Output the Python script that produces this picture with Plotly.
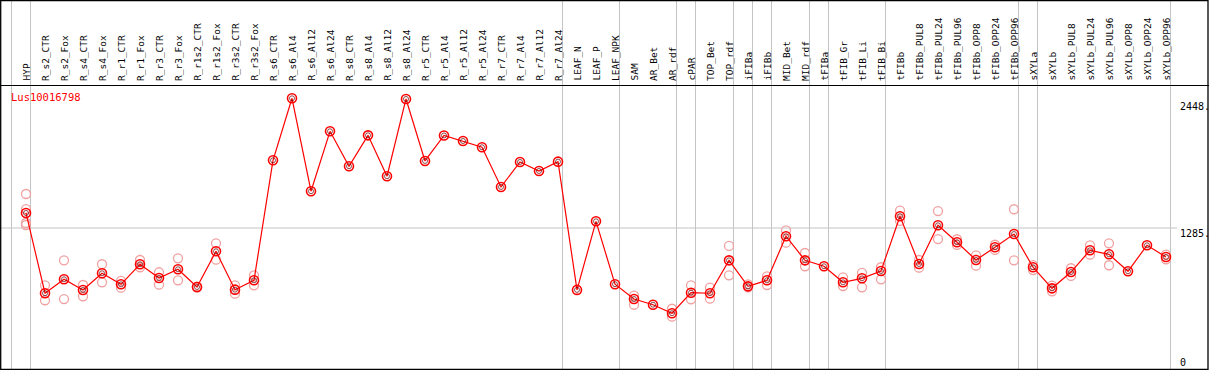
import plotly.graph_objects as go

categories = ["HYP", "R_s2_CTR", "R_s2_Fox", "R_s4_CTR", "R_s4_Fox", "R_r1_CTR", "R_r1_Fox",
              "R_r3_CTR", "R_r3_Fox", "R_r1s2_CTR", "R_r1s2_Fox", "R_r3s2_CTR", "R_r3s2_Fox",
              "R_s6_CTR", "R_s6_Al4", "R_s6_Al12", "R_s6_Al24", "R_s8_CTR", "R_s8_Al4",
              "R_s8_Al12", "R_s8_Al24", "R_r5_CTR", "R_r5_Al4", "R_r5_Al12", "R_r5_Al24",
              "R_r7_CTR", "R_r7_Al4", "R_r7_Al12", "R_r7_Al24", "LEAF_N", "LEAF_P", "LEAF_NPK",
              "SAM", "AR_Bet", "AR_rdf", "cPAR", "TOP_Bet", "TOP_rdf", "iFIBa", "iFIBb",
              "MID_Bet", "MID_rdf", "tFIBa", "tFIB_Gr", "tFIB_Li", "tFIB_Bi", "tFIBb",
              "tFIBb_PUL8", "tFIBb_PUL24", "tFIBb_PUL96", "tFIBb_OPP8", "tFIBb_OPP24",
              "tFIBb_OPP96", "sXYLa", "sXYLb", "sXYLb_PUL8", "sXYLb_PUL24", "sXYLb_PUL96",
              "sXYLb_OPP8", "sXYLb_OPP24", "sXYLb_OPP96"]

means = [1420, 700, 825, 729, 879, 780, 960,
         837, 915, 756, 1076, 732, 816,
         1892, 2448, 1615, 2152, 1839, 2116,
         1749, 2442, 1886, 2115, 2065, 2009,
         1653, 1877, 1796, 1880, 730, 1345, 781,
         648, 597, 521, 705, 700, 995, 762, 816,
         1211, 995, 942, 798, 834, 899, 1391,
         962, 1309, 1157, 998, 1112,
         1231, 933, 744, 890, 1085, 1049,
         897, 1130, 1025]

N = None
rep1 = [1590, 771, 995, 774, 960, 810, 998,
        888, 1013, 759, 1148, 771, 861,
        N, N, N, N, N, N,
        N, N, N, N, N, N,
        N, N, N, N, N, N, N,
        678, N, 561, 771, 750, 1124, 780, 852,
        1264, 1061, N, 843, 882, 933, 1440,
        929, 1437, 1184, 1040, 1135,
        1453, 953, 768, 924, 1130, 1148,
        N, N, 1046]
rep2 = [1455, 637, 648, 673, 798, 750, 933,
        777, 816, 750, 1001, 696, 771,
        N, N, N, N, N, N,
        N, N, N, N, N, N,
        N, N, N, N, N, N, N,
        597, N, 490, 646, 651, 861, 753, 774,
        1153, 942, N, 765, 753, 825, 1348,
        998, 1186, 1133, 947, 1088,
        995, 908, 717, 855, 1046, 951,
        N, N, 1004]
rep3 = [1330] + [N] * 60
rep4 = [1312] + [N] * 60

# columns after which a vertical separator is drawn (-1 = before first)
group_ends = [-1, 0, 28, 31, 34, 35, 37, 38, 39, 41, 42, 45, 52, 53, 60]
gene = "Lus10016798"
ref_level = 1285
y_max = 2448
axis_labels = [("2448.", y_max), ("1285.", ref_level), ("0", 0)]

W, H = 1209, 370
PX_PER_COL = 19.0
FIRST_PX = 26.0
x0 = -FIRST_PX / PX_PER_COL
x1 = x0 + W / PX_PER_COL
# y scale: ref_level at pixel 228, y_max at pixel 98.3
px_per_unit = (228 - 98.3) / (y_max - ref_level)
span = H / px_per_unit
y0 = ref_level - (H - 228) / px_per_unit
y1 = y0 + span

xs = list(range(len(categories)))
fig = go.Figure()

rep_color = "#f0a0a0"
for reps in (rep1, rep2, rep3, rep4):
    fig.add_trace(go.Scatter(x=xs, y=reps, mode="markers",
                             marker=dict(symbol="circle-open", size=9,
                                         line=dict(color=rep_color, width=1.3), color=rep_color),
                             hoverinfo="skip", showlegend=False))

fig.add_trace(go.Scatter(x=xs, y=means, mode="lines",
                         line=dict(color="#ff0000", width=1.2),
                         hoverinfo="skip", showlegend=False))
fig.add_trace(go.Scatter(x=xs, y=means, mode="markers",
                         marker=dict(symbol="circle-open", size=9,
                                     line=dict(color="#ff0000", width=1.6), color="#ff0000"),
                         showlegend=False))
fig.add_trace(go.Scatter(x=xs, y=means, mode="markers",
                         marker=dict(symbol="circle-open", size=5,
                                     line=dict(color="#600000", width=0.7), color="#600000"),
                         hoverinfo="skip", showlegend=False))

shapes = []
grid = "#c4c4c4"
for g in group_ends:
    xv = g + 4.5 / PX_PER_COL
    shapes.append(dict(type="line", xref="x", yref="paper", x0=xv, x1=xv, y0=0, y1=1,
                       line=dict(color=grid, width=1), layer="below"))
shapes.append(dict(type="line", xref="paper", yref="y", x0=0, x1=1177 / W,
                   y0=ref_level, y1=ref_level, line=dict(color=grid, width=1), layer="below"))


def py(p):
    return 1 - p / H


# borders
shapes.append(dict(type="line", xref="paper", yref="paper", x0=0, x1=1, y0=py(85.5), y1=py(85.5),
                   line=dict(color="black", width=1.2)))
shapes.append(dict(type="rect", xref="paper", yref="paper", x0=0.7 / W, x1=1208 / W,
                   y0=py(369.3), y1=py(0.6), line=dict(color="black", width=1.3)))

annotations = []
for i, c in enumerate(categories):
    annotations.append(dict(x=i, y=py(83), xref="x", yref="paper", text=c, showarrow=False,
                            textangle=-90, xanchor="center", yanchor="bottom",
                            font=dict(family="DejaVu Sans Mono", size=9.5, color="black")))
annotations.append(dict(x=9 / W, y=py(97), xref="paper", yref="paper", text=gene, showarrow=False,
                        xanchor="left", yanchor="middle",
                        font=dict(family="DejaVu Sans Mono", size=10.5, color="#ff0000")))
label_y_px = {"2448.": 107, "1285.": 233, "0": 362}
for txt, v in axis_labels:
    annotations.append(dict(x=1178 / W, y=py(label_y_px[txt]), xref="paper", yref="paper",
                            text=txt, showarrow=False, xanchor="left", yanchor="middle",
                            font=dict(family="DejaVu Sans Mono", size=10, color="black")))

fig.update_layout(width=W, height=H, margin=dict(l=0, r=0, t=0, b=0),
                  paper_bgcolor="white", plot_bgcolor="white",
                  xaxis=dict(range=[x0, x1], visible=False, fixedrange=True),
                  yaxis=dict(range=[y0, y1], visible=False, fixedrange=True),
                  shapes=shapes, annotations=annotations, showlegend=False)

fig.write_html("out.html", config={"displayModeBar": False},
               post_script="document.body.style.margin='0';document.body.style.overflow='hidden';")
